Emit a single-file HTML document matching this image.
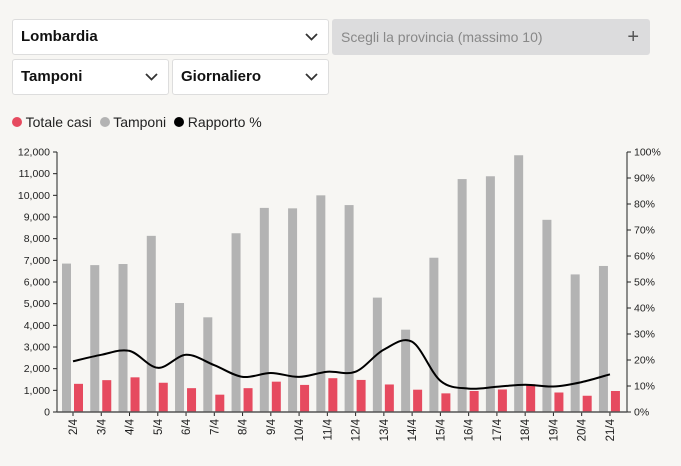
<!DOCTYPE html><html><head><style>
body{margin:0;background:#f7f6f3;font-family:"Liberation Sans",sans-serif;}
.b{position:absolute;background:#fff;border:1px solid #ddd;border-radius:3px;box-sizing:border-box;font-weight:bold;font-size:15px;color:#111;padding-left:8px;}
.b svg{position:absolute;right:10px;top:50%;margin-top:-4px}
</style></head><body>
<div style="position:relative;width:681px;height:466px;overflow:hidden">
<div class="b" style="left:12px;top:19px;width:317px;height:36px;line-height:34px">Lombardia<svg width="13" height="8"><path d="M1 1l5.5 5.5L12 1" stroke="#333" stroke-width="1.8" fill="none"/></svg></div>
<div class="b" style="left:332px;top:19px;width:318px;height:36px;line-height:34px;background:#dcdcdd;border-color:#dcdcdd;font-weight:normal;color:#888;font-size:14px">Scegli la provincia (massimo 10)<span style="position:absolute;right:10px;top:0;color:#555;font-size:20px">+</span></div>
<div class="b" style="left:12px;top:59px;width:157px;height:36px;line-height:34px">Tamponi<svg width="13" height="8"><path d="M1 1l5.5 5.5L12 1" stroke="#333" stroke-width="1.8" fill="none"/></svg></div>
<div class="b" style="left:172px;top:59px;width:157px;height:36px;line-height:34px">Giornaliero<svg width="13" height="8"><path d="M1 1l5.5 5.5L12 1" stroke="#333" stroke-width="1.8" fill="none"/></svg></div>
<div style="position:absolute;left:12px;top:114px;font-size:14px;color:#222;white-space:nowrap">
<span style="display:inline-block;width:10px;height:10px;border-radius:50%;background:#e64a5f"></span> Totale casi&nbsp;
<span style="display:inline-block;width:10px;height:10px;border-radius:50%;background:#b3b3b3"></span> Tamponi&nbsp;
<span style="display:inline-block;width:10px;height:10px;border-radius:50%;background:#000"></span> Rapporto %</div>
<svg id="c" width="681" height="466" style="position:absolute;left:0;top:0" font-family="Liberation Sans, sans-serif" font-size="10.5"></svg>
</div>
<script>
var s=document.getElementById('c'),h='';
var T=[6850,6780,6830,8130,5030,4370,8250,9420,9400,10000,9550,5280,3800,7120,10750,10880,11850,8870,6350,6740];
var C=[1300,1470,1600,1350,1100,800,1100,1400,1250,1560,1480,1270,1030,860,970,1040,1280,900,750,970];
var R=[19.5,22,23.5,17,22,18,13.5,15,13.5,15.5,15.5,24,27,12,9,9.7,10.5,9.8,11.5,14.5];
var y0=412,k=260/12000;
function X(i){return 73+i*28.26}
for(var v=0;v<=12000;v+=1000){var y=y0-v*k;h+='<line x1="53" x2="57" y1="'+y+'" y2="'+y+'" stroke="#222"/><text x="50" y="'+(y+3.5)+'" text-anchor="end" fill="#222">'+(v>=1000?Math.floor(v/1000)+','+'000':'0')+'</text>';}
for(var p=0;p<=100;p+=10){var y=y0-p*2.6;h+='<line x1="627" x2="631" y1="'+y+'" y2="'+y+'" stroke="#222"/><text x="634" y="'+(y+3.5)+'" fill="#222">'+p+'%</text>';}
for(var i=0;i<20;i++){var x=X(i);h+='<rect x="'+(x-11)+'" y="'+(y0-T[i]*k)+'" width="9" height="'+T[i]*k+'" fill="#b3b3b3"/><rect x="'+(x+1)+'" y="'+(y0-C[i]*k)+'" width="9" height="'+C[i]*k+'" fill="#e64a5f"/>';
h+='<line x1="'+x+'" x2="'+x+'" y1="412" y2="416" stroke="#222"/><text transform="translate('+(x+4)+',419) rotate(-90)" text-anchor="end" fill="#222" font-size="11.5">'+(i+2)+'/4</text>';}
h+='<line x1="57" x2="57" y1="152" y2="412" stroke="#222"/><line x1="627" x2="627" y1="152" y2="412" stroke="#222"/><line x1="57" x2="627" y1="412" y2="412" stroke="#555" stroke-width="1.5"/>';
var P=R.map(function(r,i){return [X(i),y0-r*2.6]}),d='M'+P[0];
for(var i=0;i<19;i++){var a=P[i-1]||P[i],b=P[i],c=P[i+1],e=P[i+2]||c;
d+='C'+(b[0]+(c[0]-a[0])/6)+','+(b[1]+(c[1]-a[1])/6)+' '+(c[0]-(e[0]-b[0])/6)+','+(c[1]-(e[1]-b[1])/6)+' '+c;}
h+='<path d="'+d+'" fill="none" stroke="#000" stroke-width="2"/>';
s.innerHTML=h;
</script></body></html>
